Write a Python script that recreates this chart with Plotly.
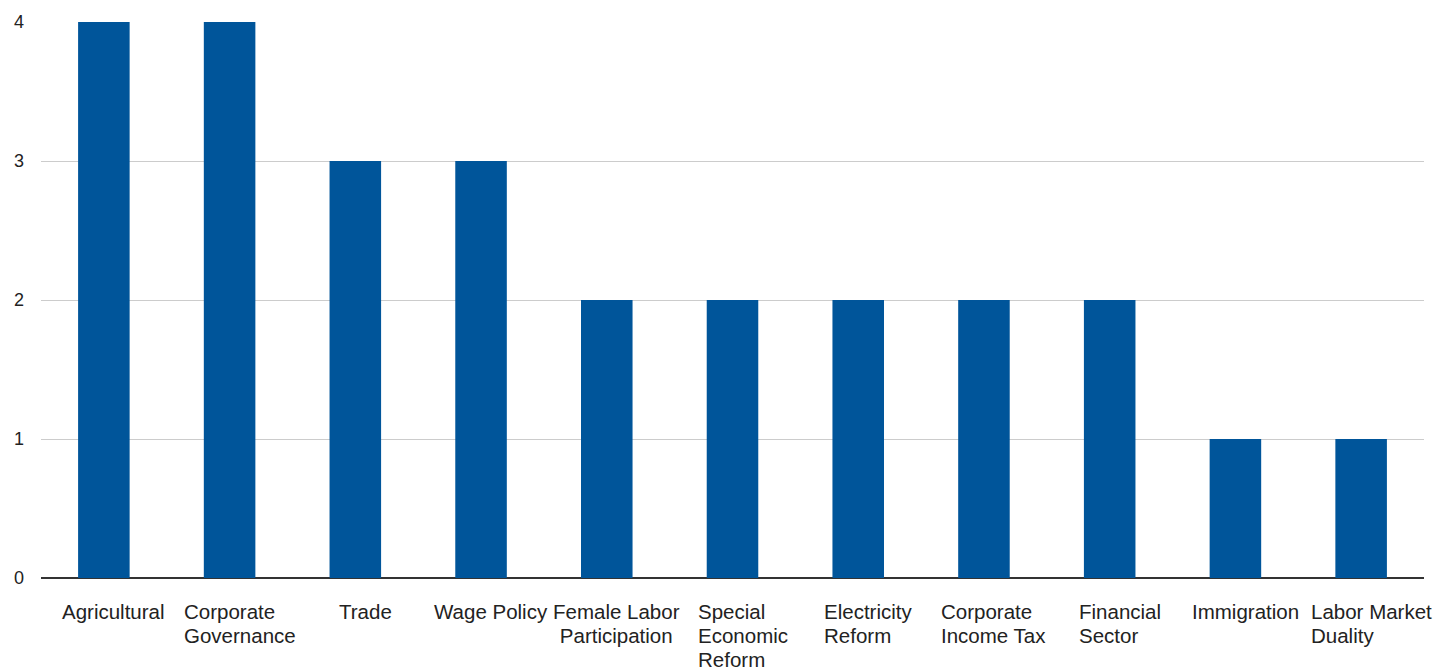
import plotly.graph_objects as go

categories = ["Agricultural", "Corporate Governance", "Trade", "Wage Policy",
              "Female Labor Participation", "Special Economic Reform",
              "Electricity Reform", "Corporate Income Tax", "Financial Sector",
              "Immigration", "Labor Market Duality"]
label_lines = ["Agricultural", "Corporate<br>Governance", "Trade", "Wage Policy",
               "Female Labor<br>Participation", "Special<br>Economic<br>Reform",
               "Electricity<br>Reform", "Corporate<br>Income Tax", "Financial<br>Sector",
               "Immigration", "Labor Market<br>Duality"]
values = [4, 4, 3, 3, 2, 2, 2, 2, 2, 1, 1]
y_ticks = [0, 1, 2, 3, 4]

FONT = "Arial, Liberation Sans, sans-serif"
BAR = "#00559A"

fig = go.Figure(go.Bar(x=categories, y=values, marker_color=BAR, width=0.41,
                       marker_line_width=0, hoverinfo="x+y"))

centered = {"Female Labor Participation"}
annotations = []
for cat, lab in zip(categories, label_lines):
    styled = "<br>".join('<span style="font-size:20.5px">%s</span>' % part
                         for part in lab.split("<br>"))
    annotations.append(dict(
        x=cat, xref="x", y=0, yref="paper", yanchor="top", xanchor="center",
        text=styled, showarrow=False, align="center" if cat in centered else "left",
        xshift=10, yshift=-20,
        font=dict(family=FONT, size=18.5, color="#222222")))

fig.update_layout(
    width=1448, height=672,
    margin=dict(l=41, r=24, t=17, b=94),
    paper_bgcolor="white", plot_bgcolor="white",
    showlegend=False,
    annotations=annotations,
    xaxis=dict(showticklabels=False, showgrid=False, zeroline=False,
               showline=False, range=[-0.5, len(categories) - 0.5]),
    yaxis=dict(range=[0, 4], tickvals=y_ticks, ticktext=[str(v) for v in y_ticks],
               showgrid=True, gridcolor="#cccccc", gridwidth=1,
               zeroline=True, zerolinecolor="#333333", zerolinewidth=2,
               showline=False, ticks="", ticklabelstandoff=16,
               tickfont=dict(family=FONT, size=18, color="#222222")),
)

fig.write_html("out.html")
